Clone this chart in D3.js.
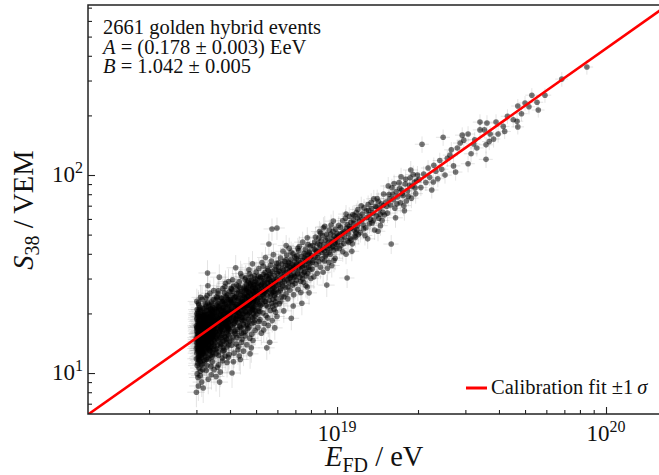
<!DOCTYPE html>
<html>
<head>
<meta charset="utf-8">
<script src="https://cdn.jsdelivr.net/npm/d3@7"></script>
<style>
body{margin:0;background:#fff;}
text{font-family:"Liberation Serif","DejaVu Serif",serif;fill:#111;}
</style>
</head>
<body>
<div id="chart"></div>
<script>
//golden hybrid events : [E_FD in EeV, S38 in VEM]
var ev3=[
[3.00,15.1],[3.01,12.6],[3.01,18.7],[3.02,14.0],[3.02,20.9],[3.03,11.2],[3.03,16.6],[3.04,13.4],[3.04,9.5],[3.05,17.8],
[3.05,15.7],[3.06,12.1],[3.06,22.1],[3.07,14.5],[3.07,10.6],[3.08,16.2],[3.08,19.3],[3.09,13.0],[3.09,15.4],[3.00,8.0],
[3.01,23.0],[3.02,17.0],[3.03,14.7],[3.04,11.9],[3.05,19.9],[3.06,16.0],[3.07,13.8],[3.08,11.7],[3.09,18.1],[3.10,13.5],
[3.10,15.9],[3.11,16.9],[3.11,10.2],[3.12,20.3],[3.12,14.3],[3.13,11.0],[3.13,18.9],[3.14,13.2],[3.14,9.0],[3.15,23.6],
[3.15,16.4],[3.16,12.4],[3.16,17.5],[3.17,14.9],[3.17,21.2],[3.18,13.7],[3.18,8.4],[3.19,15.6],[3.19,19.0],[3.20,12.8],
[3.00,13.3],[3.00,17.3],[3.01,14.8],[3.02,10.9],[3.03,19.5],[3.04,15.3],[3.05,13.1],[3.06,18.4],[3.07,12.5],[3.08,15.0],
[3.09,21.5],[3.10,11.4],[3.11,14.1],[3.12,17.7],[3.13,15.5],[3.14,12.0],[3.15,19.7],[3.16,14.6],[3.17,10.4],[3.18,16.8],
[3.19,13.9],[3.20,18.3],[3.01,16.3],[3.03,12.9],[3.05,22.6],[3.07,17.2],[3.09,14.2],[3.11,12.7],[3.13,16.1],[3.15,13.6],
[3.17,18.8],[3.19,11.6],[3.02,9.9],[3.04,20.4],[3.06,14.4],[3.08,13.3],[3.10,17.6],[3.12,15.2],[3.14,19.3],[3.16,11.1],
[3.18,14.0],[3.20,16.5],[3.00,11.8],[3.02,15.8],[3.04,17.4],[3.06,13.0],[3.08,21.0],[3.10,9.7],[3.12,12.3],[3.14,16.7],
[3.16,15.1],[3.18,20.0],[3.20,13.4],[3.05,8.6],[3.11,24.1],[3.01,19.9],[3.09,12.2],[3.13,13.9],[3.17,16.0],[3.19,17.9]
];
var ev3b=[
[3.00,14.4],[3.01,16.9],[3.02,13.6],[3.03,18.2],[3.04,15.9],[3.05,14.0],[3.06,17.1],[3.07,15.2],[3.08,18.6],[3.09,13.7],
[3.10,16.4],[3.11,19.2],[3.12,14.7],[3.13,17.4],[3.14,15.0],[3.15,12.9],[3.16,18.0],[3.17,15.6],[3.18,17.7],[3.19,14.3],
[3.20,19.5],[3.21,15.4],[3.22,17.6],[3.23,14.0],[3.24,16.1],[3.25,19.7],[3.26,15.1],[3.27,18.3],[3.28,16.0],[3.29,13.6],
[3.30,18.9],[3.31,15.7],[3.32,20.6],[3.33,16.4],[3.34,17.2],[3.35,14.8],[3.36,19.0],[3.37,16.6],[3.38,21.0],[3.39,17.3],
[3.40,14.9],[3.41,18.8],[3.42,16.0],[3.43,20.1],[3.44,17.5],[3.45,15.3],[3.46,21.4],[3.47,18.4],[3.48,16.7],[3.49,19.9],
[3.02,19.1],[3.06,11.6],[3.10,20.8],[3.14,14.1],[3.18,12.6],[3.22,21.2],[3.26,12.8],[3.30,22.6],[3.34,14.5],[3.38,13.4]
];
var ev32=[
[3.21,16.3],[3.21,13.1],[3.22,19.6],[3.22,11.5],[3.23,17.2],[3.23,14.7],[3.24,22.4],[3.24,12.6],[3.25,15.8],[3.25,18.9],
[3.26,10.3],[3.26,16.9],[3.27,14.1],[3.27,20.7],[3.28,13.4],[3.28,17.8],[3.29,15.2],[3.29,24.6],[3.30,12.0],[3.30,16.6],
[3.31,19.1],[3.31,14.5],[3.32,9.3],[3.32,17.5],[3.33,13.8],[3.33,21.6],[3.34,15.9],[3.34,11.8],[3.35,18.4],[3.35,16.1],
[3.36,13.0],[3.36,20.2],[3.37,14.9],[3.37,25.3],[3.38,17.1],[3.38,12.3],[3.39,15.5],[3.39,19.4],[3.40,10.8],[3.40,17.9],
[3.41,14.3],[3.41,22.8],[3.42,16.4],[3.42,13.6],[3.43,18.6],[3.43,15.1],[3.44,11.4],[3.44,20.9],[3.45,16.8],[3.45,14.0],
[3.46,19.0],[3.46,12.7],[3.47,17.3],[3.47,23.5],[3.48,15.6],[3.48,13.2],[3.49,18.1],[3.49,16.0],[3.50,21.3],[3.50,14.6],
[3.21,20.1],[3.22,15.0],[3.23,12.2],[3.24,18.2],[3.25,13.5],[3.26,21.8],[3.27,16.5],[3.28,10.9],[3.29,17.0],[3.30,14.4],
[3.31,27.6],[3.32,15.4],[3.33,18.7],[3.34,13.3],[3.35,22.0],[3.36,16.2],[3.37,12.9],[3.38,19.8],[3.39,14.2],[3.40,16.7],
[3.41,9.8],[3.42,18.0],[3.43,20.5],[3.44,15.3],[3.45,12.4],[3.46,17.6],[3.47,14.8],[3.48,26.1],[3.49,13.7],[3.50,18.5],
[3.23,16.0],[3.25,23.9],[3.27,11.7],[3.29,19.3],[3.31,16.9],[3.33,14.0],[3.35,13.1],[3.37,17.7],[3.39,21.1],[3.41,15.7],
[3.43,12.1],[3.45,19.6],[3.47,16.3],[3.49,10.4],[3.22,17.9],[3.26,14.6],[3.30,32.0],[3.34,19.9],[3.38,15.0],[3.42,22.3]
];
var ev35=[
[3.51,17.6],[3.52,14.2],[3.52,21.0],[3.53,16.1],[3.54,12.5],[3.54,19.3],[3.55,23.4],[3.56,15.0],[3.56,18.2],[3.57,13.3],
[3.58,20.6],[3.58,16.8],[3.59,10.7],[3.60,19.0],[3.61,14.7],[3.61,25.2],[3.62,17.4],[3.63,12.8],[3.63,21.7],[3.64,15.9],
[3.65,18.8],[3.66,9.0],[3.66,16.4],[3.67,22.5],[3.68,14.1],[3.68,19.6],[3.69,17.0],[3.70,13.6],[3.71,24.0],[3.71,18.4],
[3.72,15.5],[3.73,20.2],[3.74,11.9],[3.74,17.8],[3.75,16.3],[3.76,26.7],[3.77,19.2],[3.77,14.4],[3.78,21.4],[3.79,17.1],
[3.80,13.0],[3.80,23.1],[3.81,18.6],[3.82,15.3],[3.83,20.8],[3.84,12.2],[3.84,17.5],[3.85,28.4],[3.86,19.7],[3.87,16.0],
[3.88,22.2],[3.88,14.8],[3.89,18.3],[3.90,11.3],[3.91,20.0],[3.92,17.2],[3.92,24.8],[3.93,15.7],[3.94,19.4],[3.95,13.9],
[3.96,21.9],[3.96,18.0],[3.97,16.6],[3.98,25.7],[3.99,14.5],[4.00,20.4],[3.51,20.3],[3.53,13.1],[3.55,17.9],[3.57,24.3],
[3.59,15.6],[3.61,18.5],[3.63,11.0],[3.65,21.2],[3.67,16.2],[3.69,19.8],[3.71,14.0],[3.73,17.3],[3.75,22.9],[3.77,12.9],
[3.79,19.1],[3.81,16.5],[3.83,27.3],[3.85,15.1],[3.87,20.5],[3.89,13.5],[3.91,18.7],[3.93,23.6],[3.95,16.9],[3.97,12.4],
[3.99,19.5],[3.52,16.7],[3.56,22.0],[3.60,13.8],[3.64,20.9],[3.68,10.1],[3.72,18.9],[3.76,15.8],[3.80,21.6],[3.84,17.7],
[3.88,14.2],[3.92,20.1],[3.96,15.4],[4.00,23.3],[3.54,15.2],[3.58,18.1],[3.62,26.0],[3.66,19.9],[3.70,16.7],[3.74,21.3],
[3.78,13.4],[3.82,18.2],[3.86,24.5],[3.90,17.0],[3.94,12.0],[3.98,18.8],[3.55,9.6],[3.65,30.5],[3.75,11.5],[3.85,22.7],
[3.95,29.0],[3.57,19.5],[3.67,14.9],[3.77,20.7],[3.87,17.4],[3.97,21.5],[3.62,12.3],[3.72,23.8],[3.82,14.6],[3.92,16.4]
];
var ev35b=[
[3.50,17.0],[3.52,19.7],[3.54,16.2],[3.56,20.8],[3.58,15.5],[3.60,22.3],[3.62,18.6],[3.64,17.4],[3.66,21.8],[3.68,18.0],
[3.70,20.6],[3.72,16.9],[3.74,23.0],[3.76,19.3],[3.78,17.7],[3.80,19.8],[3.82,22.4],[3.84,20.3],[3.86,18.1],[3.88,24.1],
[3.90,19.2],[3.92,21.6],[3.94,17.9],[3.96,23.4],[3.98,20.1],[4.00,18.2],[4.03,22.9],[4.06,20.5],[4.09,24.6],[4.12,19.5],
[4.15,23.3],[4.18,21.2],[4.21,18.9],[4.24,25.3],[4.27,22.2],[4.30,20.2],[4.33,24.0],[4.36,21.7],[4.39,19.1],[4.42,25.9],
[4.45,23.0],[4.48,20.0],[3.58,23.9],[3.70,15.1],[3.82,25.4],[3.94,16.8],[4.06,26.5],[4.18,18.2],[4.30,27.5],[4.42,22.6]
];
var ev40=[
[4.01,19.7],[4.02,23.5],[4.03,16.2],[4.04,21.0],[4.05,13.8],[4.06,18.4],[4.07,25.9],[4.07,10.0],[4.08,20.3],[4.09,17.1],
[4.10,22.7],[4.11,15.2],[4.12,27.4],[4.13,19.0],[4.14,12.6],[4.15,21.8],[4.16,17.9],[4.17,24.2],[4.18,15.8],[4.19,20.6],
[4.20,34.0],[4.21,18.7],[4.22,14.0],[4.23,22.1],[4.24,19.4],[4.25,26.3],[4.26,16.6],[4.27,21.3],[4.28,13.1],[4.29,18.0],
[4.30,23.8],[4.31,20.0],[4.32,15.5],[4.33,28.9],[4.34,19.6],[4.35,17.3],[4.36,22.5],[4.37,11.7],[4.38,20.9],[4.39,25.1],
[4.40,16.9],[4.41,21.6],[4.42,18.6],[4.43,30.7],[4.44,14.8],[4.45,22.9],[4.46,19.8],[4.47,24.7],[4.48,17.6],[4.49,12.9],
[4.50,21.4],[4.02,17.4],[4.04,26.8],[4.06,14.6],[4.08,22.3],[4.10,18.9],[4.12,11.4],[4.14,24.0],[4.16,20.1],[4.18,16.3],
[4.20,21.7],[4.22,27.9],[4.24,15.1],[4.26,23.2],[4.28,19.3],[4.30,13.6],[4.32,25.6],[4.34,21.1],[4.36,17.0],[4.38,31.8],
[4.40,20.7],[4.42,14.3],[4.44,23.6],[4.46,18.3],[4.48,26.6],[4.50,16.0],[4.03,20.8],[4.09,29.6],[4.15,16.1],[4.21,24.4],
[4.27,18.8],[4.33,12.2],[4.39,22.0],[4.45,19.1],[4.05,22.6],[4.13,17.7],[4.25,20.4],[4.35,27.0],[4.41,15.9],[4.47,21.9]
];
var ev45=[
[4.51,23.0],[4.52,18.5],[4.53,27.2],[4.54,21.1],[4.55,15.4],[4.56,25.0],[4.57,20.2],[4.58,30.3],[4.59,17.3],[4.60,23.9],
[4.61,21.5],[4.62,13.9],[4.63,26.4],[4.64,19.7],[4.65,24.3],[4.66,16.8],[4.67,28.6],[4.68,22.4],[4.69,20.0],[4.70,33.2],
[4.71,18.1],[4.72,25.5],[4.73,22.8],[4.74,15.0],[4.75,12.5],[4.76,27.8],[4.77,21.2],[4.78,24.9],[4.79,19.2],[4.80,29.4],
[4.81,23.4],[4.82,17.8],[4.83,26.0],[4.84,20.9],[4.85,35.6],[4.86,22.6],[4.87,14.6],[4.88,25.8],[4.89,19.9],[4.90,28.0],
[4.91,23.7],[4.92,18.0],[4.93,31.0],[4.94,21.8],[4.95,26.9],[4.96,16.4],[4.97,24.1],[4.98,20.5],[4.99,29.9],[5.00,22.2],
[4.52,21.9],[4.56,16.2],[4.60,28.1],[4.64,24.6],[4.68,18.7],[4.72,31.7],[4.76,20.6],[4.80,13.4],[4.84,26.7],[4.88,22.9],
[4.92,25.3],[4.96,19.4],[5.00,32.4],[4.54,26.2],[4.62,22.0],[4.70,17.0],[4.78,27.5],[4.86,19.0],[4.94,24.8],[4.58,20.4],
[4.66,29.2],[4.74,23.1],[4.82,15.7],[4.90,21.4],[4.98,26.5],[4.53,24.0],[4.57,19.0],[4.61,26.0],[4.65,22.1],[4.69,27.0],
[4.73,20.3],[4.77,25.1],[4.81,21.7],[4.85,28.8],[4.89,24.2],[4.93,20.8],[4.97,27.9],[4.55,29.7],[4.63,17.6],[4.71,23.5],
[4.79,30.6],[4.87,23.0],[4.95,18.5]
];
var ev45b=[
[4.52,24.4],[4.56,21.5],[4.60,26.8],[4.64,23.2],[4.68,25.7],[4.72,22.0],[4.76,28.3],[4.80,24.0],[4.84,21.3],[4.88,27.1],
[4.92,23.4],[4.96,29.0],[5.00,25.8],[5.05,23.7],[5.10,28.5],[5.15,25.0],[5.20,30.6],[5.25,26.7],[5.30,23.5],[5.35,29.3],
[5.40,26.2],[5.45,31.0],[5.50,27.2]
];
var ev50=[
[5.02,25.3],[5.03,19.8],[5.05,29.5],[5.06,22.7],[5.08,17.0],[5.09,27.1],[5.11,24.0],[5.12,33.7],[5.14,21.2],[5.15,26.4],
[5.17,18.6],[5.18,30.2],[5.20,23.8],[5.21,27.7],[5.23,15.9],[5.24,25.6],[5.26,36.1],[5.27,22.3],[5.29,28.4],[5.30,20.1],
[5.32,26.0],[5.33,31.5],[5.35,24.2],[5.36,17.8],[5.38,29.0],[5.39,22.9],[5.41,27.3],[5.42,38.3],[5.44,19.5],[5.45,25.9],
[5.47,30.8],[5.48,13.4],[5.50,24.7],[5.51,28.8],[5.53,21.6],[5.54,33.0],[5.56,26.6],[5.58,44.8],[5.59,23.3],[5.60,29.7],
[5.62,14.3],[5.63,27.5],[5.65,20.7],[5.66,35.0],[5.68,25.1],[5.69,30.4],[5.71,22.5],[5.72,28.2],[5.74,18.4],[5.75,32.6],
[5.77,26.9],[5.78,23.6],[5.80,39.6],[5.81,29.3],[5.83,21.0],[5.84,27.0],[5.86,31.2],[5.87,16.9],[5.89,28.6],[5.90,25.2],
[5.92,34.4],[5.93,22.1],[5.95,29.8],[5.96,26.3],[5.98,19.3],[6.00,31.9],[5.04,23.1],[5.10,30.9],[5.16,20.4],[5.22,28.0],
[5.28,24.9],[5.34,16.5],[5.40,32.2],[5.46,26.1],[5.52,19.0],[5.57,30.0],[5.64,24.4],[5.70,36.8],[5.76,21.7],[5.82,25.7],
[5.88,33.4],[5.94,23.9],[5.99,27.8],[5.07,27.9],[5.19,21.9],[5.31,34.7],[5.43,23.0],[5.55,17.4],[5.67,28.9],[5.79,27.4],
[5.91,20.3],[5.13,18.2],[5.37,25.4],[5.61,31.3],[5.85,24.6],[5.73,53.4],[5.98,54.0],[5.05,26.2],[5.15,22.4],[5.25,30.0],
[5.35,27.6],[5.45,22.0],[5.55,28.3],[5.65,32.0],[5.75,25.6],[5.85,29.0],[5.95,35.8],[5.10,20.6],[5.30,25.0],[5.50,33.6],
[5.70,26.0],[5.90,22.9]
];
var ev60=[
[6.02,30.1],[6.04,25.6],[6.06,34.3],[6.08,28.0],[6.10,22.4],[6.12,32.5],[6.14,29.2],[6.16,38.1],[6.18,26.7],[6.20,31.4],
[6.22,24.3],[6.24,35.6],[6.26,30.6],[6.28,27.5],[6.30,41.2],[6.32,33.0],[6.34,20.6],[6.36,29.9],[6.38,36.7],[6.40,31.9],
[6.42,27.0],[6.44,34.9],[6.46,25.1],[6.48,32.2],[6.50,39.4],[6.52,29.5],[6.54,33.8],[6.56,23.7],[6.58,31.1],[6.60,36.2],
[6.62,28.6],[6.64,42.7],[6.66,32.8],[6.68,26.2],[6.70,34.1],[6.72,30.3],[6.74,37.5],[6.76,18.9],[6.78,33.3],[6.80,29.0],
[6.82,35.2],[6.84,27.8],[6.86,40.0],[6.88,31.6],[6.90,24.8],[6.92,34.6],[6.94,30.9],[6.96,38.8],[6.98,28.3],[7.00,33.5],
[6.07,36.0],[6.17,23.0],[6.27,33.6],[6.37,28.9],[6.47,44.0],[6.57,27.2],[6.67,35.9],[6.77,31.0],[6.87,21.8],[6.97,36.4],
[6.05,32.7],[6.25,28.4],[6.45,37.3],[6.65,30.1],[6.85,33.9],[6.15,26.0],[6.55,35.0],[6.95,30.5],[6.35,24.2],[6.75,40.8]
];
var ev70=[
[7.03,34.7],[7.06,29.4],[7.09,39.1],[7.12,32.0],[7.15,26.5],[7.18,37.2],[7.21,33.9],[7.24,43.5],[7.27,30.5],[7.30,36.0],
[7.33,25.5],[7.36,38.7],[7.39,34.4],[7.42,31.3],[7.45,45.8],[7.48,36.9],[7.51,28.7],[7.54,40.2],[7.57,35.1],[7.60,32.6],
[7.63,42.1],[7.66,27.6],[7.69,37.8],[7.72,34.0],[7.75,48.2],[7.78,31.8],[7.81,39.7],[7.84,36.3],[7.87,25.4],[7.90,41.0],
[7.93,35.6],[7.96,38.3],[7.99,30.0],[7.08,35.5],[7.20,41.5],[7.32,29.0],[7.44,34.8],[7.56,38.0],[7.68,31.0],[7.80,44.6],
[7.92,33.2],[7.14,31.6],[7.40,22.5],[7.65,36.6],[7.88,40.5],[7.05,37.9],[7.25,35.2],[7.45,29.9],[7.65,39.4],[7.85,34.1],
[7.15,42.6],[7.55,32.2],[7.95,43.8],[7.35,33.0],[7.75,27.2]
];
var ev80=[
[8.04,39.2],[8.08,33.5],[8.12,44.0],[8.16,37.0],[8.20,30.6],[8.24,42.3],[8.28,38.4],[8.32,48.6],[8.36,35.4],[8.40,41.1],
[8.44,31.9],[8.48,45.0],[8.52,40.0],[8.56,36.6],[8.60,51.8],[8.64,42.8],[8.68,34.2],[8.72,46.4],[8.76,40.7],[8.80,37.7],
[8.84,49.5],[8.88,32.3],[8.92,44.6],[8.96,41.4],[9.00,55.0],[9.04,38.9],[9.08,46.9],[9.12,43.0],[9.16,27.8],[9.20,48.1],
[9.24,42.0],[9.28,45.5],[9.32,36.2],[9.36,52.7],[9.40,44.2],[9.44,39.8],[9.48,50.3],[9.52,46.0],[9.56,34.9],[9.60,47.4],
[9.64,43.6],[9.68,58.5],[9.72,41.8],[9.76,49.0],[9.80,45.2],[9.84,38.0],[9.88,53.4],[9.92,47.1],[9.96,42.5],[10.0,50.6],
[8.30,41.7],[8.70,50.9],[9.10,39.5],[9.50,55.9],[9.90,44.7],[8.10,36.2],[8.26,45.9],[8.46,38.3],[8.62,44.4],[8.82,41.9],
[8.98,36.8],[9.14,50.1],[9.34,40.6],[9.54,42.9],[9.74,37.1],[9.94,48.3],[8.54,48.0],[9.22,33.8],[9.66,52.0],[8.90,54.2]
];
var ev100=[
[10.1,49.0],[10.2,42.6],[10.3,54.5],[10.4,47.3],[10.5,58.8],[10.6,45.1],[10.7,52.0],[10.8,39.8],[10.9,30.2],[10.9,56.2],
[11.0,50.5],[11.1,61.9],[11.2,47.8],[11.3,54.0],[11.4,44.9],[11.5,59.3],[11.6,52.6],[11.7,48.4],[11.8,64.7],[11.9,55.4],
[12.0,50.0],[10.15,55.8],[10.35,44.0],[10.55,51.5],[10.75,60.4],[10.95,46.5],[11.15,53.3],[11.35,41.2],[11.55,57.1],[11.75,51.1],
[11.95,67.0],[10.45,50.8],[11.05,45.7],[11.45,63.0],[11.85,53.0],[10.25,50.2],[10.65,48.7],[10.85,53.9],[11.25,57.7],[11.65,49.3],
[11.9,60.6],[10.05,45.5],[10.5,41.0],[11.1,55.0],[11.6,62.4],[10.8,63.5],[11.3,46.9]
];
var ev120=[
[12.1,58.4],[12.2,51.2],[12.4,63.6],[12.5,56.0],[12.6,68.2],[12.8,54.1],[12.9,61.0],[13.0,47.6],[13.1,66.4],[13.3,59.7],
[13.4,72.9],[13.5,57.3],[13.6,64.3],[13.8,52.8],[13.9,69.5],[14.0,62.2],[14.1,76.0],[14.3,60.5],[14.4,67.3],[14.5,55.5],
[14.6,71.4],[14.8,64.9],[14.9,80.2],[15.0,62.8],[12.3,70.0],[12.7,49.5],[13.2,56.8],[13.7,75.8],[14.2,52.0],[14.7,59.0],
[12.15,62.0],[12.45,59.8],[12.85,65.8],[13.25,63.1],[13.65,59.0],[14.05,68.9],[14.45,63.4],[14.85,70.2],[12.55,53.5],[13.45,67.7],
[14.25,73.5],[13.05,71.0]
];
var ev150=[
[15.2,73.0],[15.4,64.2],[15.6,79.7],[15.8,70.6],[15.9,44.8],[16.0,86.3],[16.2,75.1],[16.4,68.0],[16.6,82.4],[16.8,77.6],
[17.0,91.5],[17.2,72.4],[17.4,84.0],[17.6,78.9],[17.8,66.0],[18.0,95.2],[18.3,83.3],[18.6,88.7],[18.9,76.4],[19.2,100.5],
[19.5,86.1],[19.8,93.6],[15.5,88.0],[16.5,60.8],[17.3,98.0],[18.1,73.9],[18.8,106.0],[19.6,80.5],[15.3,69.5],[15.7,75.9],
[16.1,80.0],[16.7,71.5],[17.1,85.8],[17.5,80.6],[17.9,90.1],[18.4,78.0],[18.7,96.8],[19.0,87.6],[19.4,92.0],[19.9,100.0],
[16.3,90.5],[17.7,70.0]
];
var ev200=[
[20.2,95.0],[20.5,86.4],[20.7,143.0],[21.0,101.2],[21.4,91.7],[21.8,108.5],[22.1,97.3],[22.5,84.0],[22.9,112.0],[23.3,104.6],
[23.7,95.8],[24.1,118.3],[24.5,107.0],[24.8,155.0],[25.2,99.9],[25.7,121.5],[26.3,126.0],[26.6,134.0],[27.1,111.2],[27.6,103.5],
[28.0,137.0],[28.7,145.0],[29.2,159.0],[29.6,150.0],[22.8,92.2]
];
var ev300=[
[30.7,161.0],[30.7,114.0],[31.5,128.0],[32.2,143.5],[33.1,137.0],[34.0,185.0],[34.0,169.0],[35.3,169.0],[35.8,142.0],[35.8,120.0],
[36.1,183.0],[37.1,161.0],[38.2,152.0],[39.0,185.0],[39.7,161.0],[41.5,176.0],[43.0,198.0],[45.2,190.0],[46.7,187.0],[47.0,175.0],
[47.0,223.0],[48.5,204.0],[32.5,150.8],[36.8,147.5],[42.0,166.0]
];
var ev500=[
[50.0,231.0],[51.7,221.0],[53.0,253.0],[55.4,233.0],[56.0,213.0],[59.3,253.0],[68.5,305.0],[84.9,351.0]
];
//resolution (relative 1 sigma) by energy range, lower edges in EeV
var resEdges=[3,5,10,20,40];
var resE=[0.075,0.07,0.065,0.06,0.055];
var resS=[0.16,0.13,0.11,0.095,0.085];
//calibration fit E = A (S38/VEM)^B
var fitA=0.178, fitB=1.042;
var xMajor=[1e19,1e20], xMajorLbl=["19","20"];
var yMajor=[10,100], yMajorLbl=["1","2"];

var width=659,height=475;
var padL=88,padT=5,padB=414,padR=662;//right spine falls just outside the picture
var svg=d3.select("#chart").append("svg").attr("width",width).attr("height",height);
var x=d3.scaleLog().domain([1.186e18,1.615e20]).range([padL,padR]);
var y=d3.scaleLog().domain([6.21,722]).range([padB,padT]);

var events=[].concat(ev3,ev3b,ev32,ev35,ev35b,ev40,ev45,ev45b,ev50,ev60,ev70,ev80,ev100,ev120,ev150,ev200,ev300,ev500);
function resIdx(e){var i=0;while(i<resEdges.length-1 && e>=resEdges[i+1])i++;return i;}

svg.append("clipPath").attr("id","plotclip").append("rect")
	.attr("x",padL).attr("y",padT).attr("width",padR-padL).attr("height",padB-padT);
var plot=svg.append("g").attr("clip-path","url(#plotclip)");

//error bars
var eb=plot.append("g").attr("stroke","#000").attr("stroke-opacity",0.11).attr("stroke-width",1);
eb.selectAll("line.ex").data(events).enter().append("line").attr("class","ex")
	.attr("x1",function(d){return x(d[0]*1e18*(1-resE[resIdx(d[0])]));})
	.attr("x2",function(d){return x(d[0]*1e18*(1+resE[resIdx(d[0])]));})
	.attr("y1",function(d){return y(d[1]);}).attr("y2",function(d){return y(d[1]);});
eb.selectAll("line.ey").data(events).enter().append("line").attr("class","ey")
	.attr("x1",function(d){return x(d[0]*1e18);}).attr("x2",function(d){return x(d[0]*1e18);})
	.attr("y1",function(d){return y(d[1]*(1-resS[resIdx(d[0])]));})
	.attr("y2",function(d){return y(d[1]*(1+resS[resIdx(d[0])]));});
//points
plot.append("g").selectAll("circle").data(events).enter().append("circle")
	.attr("cx",function(d){return x(d[0]*1e18);})
	.attr("cy",function(d){return y(d[1]);})
	.attr("r",2.8)
	.attr("fill","#000").attr("fill-opacity",0.53);
//fit line
var fitE=x.domain();
plot.append("path").datum(fitE)
	.attr("d",d3.line().x(function(e){return x(e);}).y(function(e){return y(Math.pow(e/1e18/fitA,1/fitB));}))
	.attr("fill","none").attr("stroke","#f00").attr("stroke-width",2.6);

//ticks, inward
function minorTicks(scale){
	var d=scale.domain(),out=[];
	for(var p=Math.floor(Math.log10(d[0]));p<=Math.ceil(Math.log10(d[1]));p++)
		for(var m=2;m<10;m++){var v=m*Math.pow(10,p);if(v>=d[0]&&v<=d[1])out.push(v);}
	return out;
}
function tickAxis(axis,vals,len,tr){
	var g=svg.append("g").attr("transform",tr)
		.call(axis.tickValues(vals).tickSizeInner(-len).tickSizeOuter(0).tickFormat(""));
	g.select(".domain").remove();
	g.selectAll("line").attr("stroke","#222").attr("stroke-width",1.1);
}
tickAxis(d3.axisBottom(x),minorTicks(x),4,"translate(0,"+padB+")");
tickAxis(d3.axisBottom(x),xMajor,7,"translate(0,"+padB+")");
tickAxis(d3.axisLeft(y),minorTicks(y),4,"translate("+padL+",0)");
tickAxis(d3.axisLeft(y),yMajor,7,"translate("+padL+",0)");

//frame
svg.append("rect").attr("x",padL).attr("y",padT).attr("width",padR-padL).attr("height",padB-padT)
	.attr("fill","none").attr("stroke","#222").attr("stroke-width",1.5);

//tick labels 10^n
xMajor.forEach(function(v,i){
	var t=svg.append("text").attr("x",x(v)).attr("y",441).attr("text-anchor","middle").style("font-size","23px");
	t.append("tspan").text("10");
	t.append("tspan").attr("dy",-9).style("font-size","16px").text(xMajorLbl[i]);
});
yMajor.forEach(function(v,i){
	var t=svg.append("text").attr("x",83).attr("y",y(v)+7).attr("text-anchor","end").style("font-size","23px");
	t.append("tspan").text("10");
	t.append("tspan").attr("dy",-9).style("font-size","16px").text(yMajorLbl[i]);
});

//axis titles
var xt=svg.append("text").attr("x",325).attr("y",466).style("font-size","28.5px");
xt.append("tspan").style("font-style","italic").text("E");
xt.append("tspan").attr("dy",6).style("font-size","20px").text("FD");
xt.append("tspan").attr("dy",-6).text(" / eV");
var yt=svg.append("text").attr("transform","translate(33,210) rotate(-90)").attr("text-anchor","middle").style("font-size","28.5px");
yt.append("tspan").style("font-style","italic").text("S");
yt.append("tspan").attr("dy",6).style("font-size","20px").text("38");
yt.append("tspan").attr("dy",-6).text(" / VEM");

//annotation
var note=svg.append("g").style("font-size","20.5px");
note.append("text").attr("x",103).attr("y",34).text("2661 golden hybrid events");
var l2=note.append("text").attr("x",103).attr("y",53.5);
l2.append("tspan").style("font-style","italic").text("A");
l2.append("tspan").text(" = (0.178 \u00b1 0.003) EeV");
var l3=note.append("text").attr("x",103).attr("y",73);
l3.append("tspan").style("font-style","italic").text("B");
l3.append("tspan").text(" = 1.042 \u00b1 0.005");

//legend
svg.append("line").attr("x1",466).attr("x2",487).attr("y1",388).attr("y2",388)
	.attr("stroke","#f00").attr("stroke-width",3);
var lg=svg.append("text").attr("x",491).attr("y",394).style("font-size","20.5px");
lg.append("tspan").text("Calibration fit \u00b11\u2009");
lg.append("tspan").style("font-style","italic").text("\u03c3");
</script>
</body>
</html>
